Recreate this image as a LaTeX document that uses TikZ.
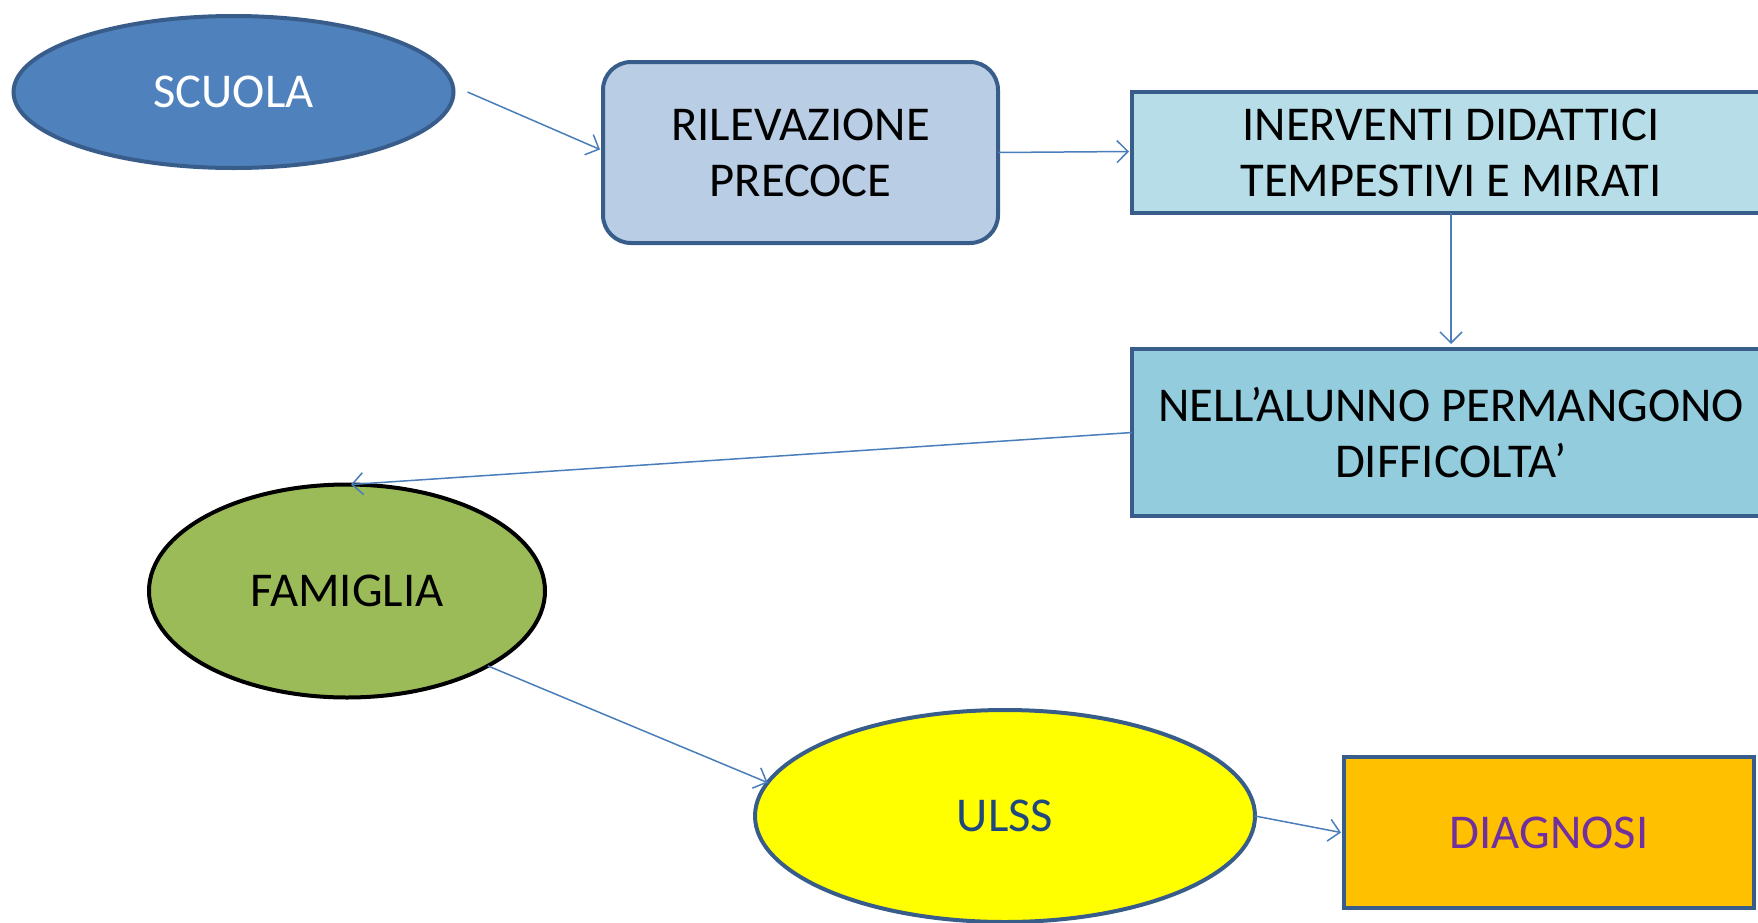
\documentclass[tikz,border=0pt]{standalone}
\usepackage{fontspec}
\setmainfont{Carlito}
\usetikzlibrary{shapes.geometric,arrows.meta,calc}
\definecolor{bordo}{HTML}{385D8A}
\definecolor{freccia}{HTML}{4A7EBB}
\definecolor{cscuola}{HTML}{4F81BD}
\definecolor{cril}{HTML}{B9CDE5}
\definecolor{cinter}{HTML}{B7DEE8}
\definecolor{cnell}{HTML}{93CDDD}
\definecolor{cfam}{HTML}{9BBB59}
\definecolor{cdiag}{HTML}{FFC000}
\definecolor{cgiallo}{HTML}{FFFF00}
\definecolor{tulss}{HTML}{1F497D}
\definecolor{tdiag}{HTML}{7030A0}
\tikzset{
  txt/.style={font=\fontsize{24.3}{28}\selectfont, align=center, inner sep=0pt, outer sep=0pt},
  ell/.style={txt, ellipse, draw=bordo, line width=2pt},
  boxx/.style={txt, rectangle, draw=bordo, line width=2pt},
  arr/.style={draw=freccia, line width=0.75pt, -{Straight Barb[length=5.5pt,width=11pt,line width=0.75pt]}},
}
\begin{document}
\begin{tikzpicture}[x=0.5pt,y=-0.5pt]
\useasboundingbox (0,0) rectangle (1758,922);
\clip (0,0) rectangle (1758,922);
\node[ell, fill=cscuola, text=white, minimum width=220pt, minimum height=76pt] (sc) at (233.5,92) {SCUOLA};
\node[boxx, fill=cril, rounded corners=14pt, minimum width=197.5pt, minimum height=90.5pt] (ril) at (800.5,152.5) {RILEVAZIONE\\PRECOCE};
\node[boxx, fill=cinter, minimum width=319pt, minimum height=60.5pt] (inter) at (1451,152.5) {INERVENTI DIDATTICI\\TEMPESTIVI E MIRATI};
\node[boxx, fill=cnell, minimum width=319pt, minimum height=83.5pt] (nell) at (1451,432.5) {NELL’ALUNNO PERMANGONO\\DIFFICOLTA’};
\node[ell, fill=cfam, draw=black, minimum width=198pt, minimum height=106.5pt] (fam) at (347,591) {FAMIGLIA};
\node[ell, fill=cgiallo, text=tulss, minimum width=250pt, minimum height=106pt] (ulss) at (1005,816) {ULSS};
\node[boxx, fill=cdiag, text=tdiag, minimum width=205pt, minimum height=75.5pt] (diag) at (1549,832.5) {DIAGNOSI};
\draw[arr] ($(sc.east)+(14,0)$) -- ($(ril.west)+(-3,-3)$);
\draw[arr] (ril.east) -- ($(inter.west)+(-3,-1)$);
\draw[arr] (inter.south) -- ($(nell.north)+(0,-5)$);
\draw[arr] (nell.west) -- ($(fam.north)+(4,0)$);
\draw[arr] (fam.-28) -- (ulss.172.6);
\draw[arr] (ulss.east) -- ($(diag.west)+(-3,0)$);
\end{tikzpicture}
\end{document}
